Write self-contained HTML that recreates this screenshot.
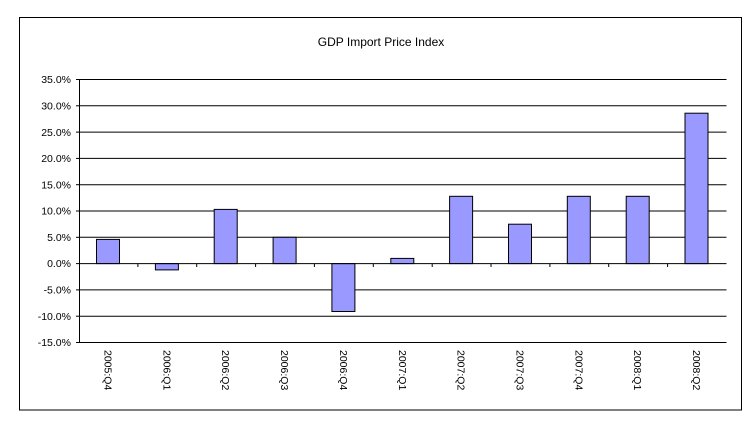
<!DOCTYPE html>
<html><head><meta charset="utf-8"><style>
html,body{margin:0;padding:0;background:#fff;}
svg{display:block;font-family:"Liberation Sans",Arial,sans-serif;}
</style></head><body>
<svg width="756" height="435" viewBox="0 0 756 435" xmlns="http://www.w3.org/2000/svg">
<rect x="19.5" y="17.5" width="722" height="392.5" fill="#fff" stroke="#000" stroke-width="1"/>
<text x="381" y="46" font-size="12" text-anchor="middle">GDP Import Price Index</text>
<g stroke="#000" stroke-width="1">
<line x1="79" y1="79.5" x2="726.5" y2="79.5"/>
<line x1="79" y1="105.8" x2="726.5" y2="105.8"/>
<line x1="79" y1="132.1" x2="726.5" y2="132.1"/>
<line x1="79" y1="158.4" x2="726.5" y2="158.4"/>
<line x1="79" y1="184.7" x2="726.5" y2="184.7"/>
<line x1="79" y1="211" x2="726.5" y2="211"/>
<line x1="79" y1="237.3" x2="726.5" y2="237.3"/>
<line x1="79" y1="289.9" x2="726.5" y2="289.9"/>
<line x1="79" y1="316.2" x2="726.5" y2="316.2"/>
<line x1="79" y1="342.5" x2="726.5" y2="342.5"/>
<line x1="79.5" y1="79" x2="79.5" y2="342.5"/>
</g>
<g stroke="#000" stroke-width="1">
<line x1="76" y1="79.5" x2="79" y2="79.5"/><line x1="76" y1="105.8" x2="79" y2="105.8"/><line x1="76" y1="132.1" x2="79" y2="132.1"/><line x1="76" y1="158.4" x2="79" y2="158.4"/><line x1="76" y1="184.7" x2="79" y2="184.7"/><line x1="76" y1="211" x2="79" y2="211"/><line x1="76" y1="237.3" x2="79" y2="237.3"/><line x1="76" y1="263.6" x2="79" y2="263.6"/><line x1="76" y1="289.9" x2="79" y2="289.9"/><line x1="76" y1="316.2" x2="79" y2="316.2"/><line x1="76" y1="342.5" x2="79" y2="342.5"/>
</g>
<g font-size="10.5" text-anchor="end">
<text x="71" y="83">35.0%</text><text x="71" y="109.5">30.0%</text><text x="71" y="135.8">25.0%</text><text x="71" y="162">20.0%</text><text x="71" y="188.3">15.0%</text><text x="71" y="214.6">10.0%</text><text x="71" y="241">5.0%</text><text x="71" y="267.2">0.0%</text><text x="71" y="293.5">-5.0%</text><text x="71" y="319.8">-10.0%</text><text x="71" y="346.1">-15.0%</text>
</g>
<g fill="#9999ff" stroke="#000" stroke-width="1">
<rect x="96.5" y="239.4" width="23" height="24.2"/>
<rect x="155.4" y="263.6" width="23" height="6.3"/>
<rect x="214.2" y="209.4" width="23" height="54.2"/>
<rect x="273.1" y="237.3" width="23" height="26.3"/>
<rect x="331.9" y="263.6" width="23" height="47.9"/>
<rect x="390.8" y="258.4" width="23" height="5.2"/>
<rect x="449.6" y="196.3" width="23" height="67.3"/>
<rect x="508.5" y="224.2" width="23" height="39.4"/>
<rect x="567.3" y="196.3" width="23" height="67.3"/>
<rect x="626.2" y="196.3" width="23" height="67.3"/>
<rect x="685" y="113.2" width="23" height="150.4"/>
</g>
<g stroke="#000" stroke-width="1">
<line x1="79" y1="263.6" x2="726.5" y2="263.6"/>
<line x1="137.9" y1="263.6" x2="137.9" y2="267"/><line x1="196.7" y1="263.6" x2="196.7" y2="267"/><line x1="255.6" y1="263.6" x2="255.6" y2="267"/><line x1="314.4" y1="263.6" x2="314.4" y2="267"/><line x1="373.3" y1="263.6" x2="373.3" y2="267"/><line x1="432.2" y1="263.6" x2="432.2" y2="267"/><line x1="491" y1="263.6" x2="491" y2="267"/><line x1="549.9" y1="263.6" x2="549.9" y2="267"/><line x1="608.7" y1="263.6" x2="608.7" y2="267"/><line x1="667.6" y1="263.6" x2="667.6" y2="267"/>
</g>
<g font-size="10.5">
<text transform="translate(104.5,350) rotate(90)">2005:Q4</text>
<text transform="translate(163.4,350) rotate(90)">2006:Q1</text>
<text transform="translate(222.2,350) rotate(90)">2006:Q2</text>
<text transform="translate(281.1,350) rotate(90)">2006:Q3</text>
<text transform="translate(339.9,350) rotate(90)">2006:Q4</text>
<text transform="translate(398.8,350) rotate(90)">2007:Q1</text>
<text transform="translate(457.6,350) rotate(90)">2007:Q2</text>
<text transform="translate(516.5,350) rotate(90)">2007:Q3</text>
<text transform="translate(575.3,350) rotate(90)">2007:Q4</text>
<text transform="translate(634.2,350) rotate(90)">2008:Q1</text>
<text transform="translate(693,350) rotate(90)">2008:Q2</text>
</g>
</svg>
</body></html>
